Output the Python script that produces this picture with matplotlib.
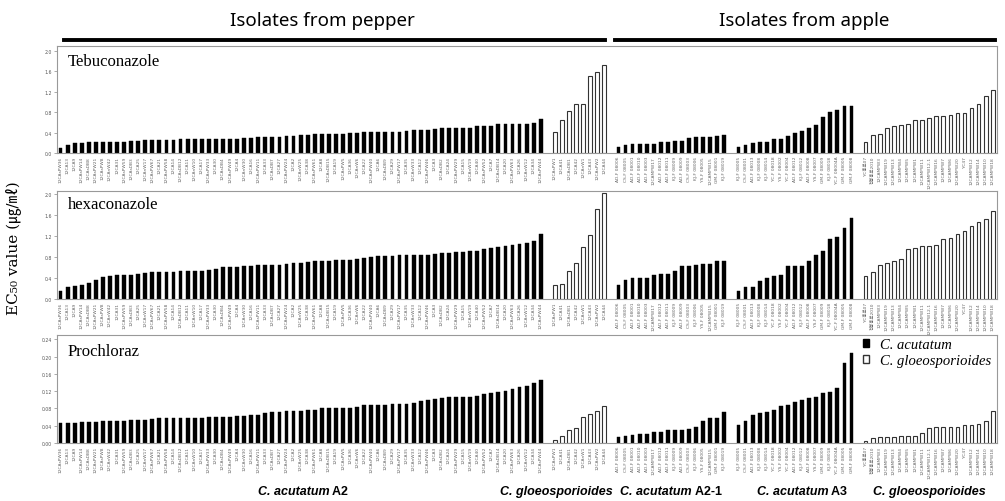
import matplotlib
matplotlib.use("Agg")
import matplotlib.pyplot as plt
from matplotlib.patches import Patch
from matplotlib.lines import Line2D

plt.rcParams['font.family'] = ['DejaVu Sans', 'Noto Sans CJK KR']

# ---------------- data ----------------
fungicides = ["Tebuconazole", "hexaconazole", "Prochloraz"]
group_titles = ["C. acutatum A2", "C. gloeosporioides", "C. acutatum A2-1",
                "C. acutatum A3", "C. gloeosporioides"]
group_species = ["acutatum", "gloeo", "acutatum", "acutatum", "gloeo"]

pepper_a2_names = [
    "12CAsPW36", "12CA13", "12CA9", "12CAsPW14", "12CAsDB8", "12CAsPW21", "12CAsPW8", "12CAnW42", "12CA31", "12CAsPW59",
    "12CAsDB3", "12CA25", "12CAnW17", "12CAsPW67", "12CA21", "12CAsPW58", "12CA14", "12CAsDB12", "12CA11", "12CAnW10",
    "12CA17", "12CAsPW33", "12CA30", "12CAsDB4", "12CAsPW49", "12CA4", "12CAnW30", "12CA16", "12CAsPW11", "12CA33",
    "12CAsDB7", "12CA27", "12CAsPW24", "12CA2", "12CAnW25", "12CA38", "12CAsPW61", "12CA8", "12CAsDB15", "12CA19",
    "12CAsPW5", "12CA36", "12CAnW6", "12CA22", "12CAsPW40", "12CA6", "12CAsDB9", "12CA29", "12CAsPW17", "12CA35",
    "12CAnW33", "12CA12", "12CAsPW46", "12CA3", "12CAsDB2", "12CA24", "12CAsPW29", "12CA15", "12CAnW19", "12CA40",
    "12CAsPW52", "12CA7", "12CAsDB14", "12CA20", "12CAsPW63", "12CA26", "12CAnW12", "12CA34", "12CAsPW44"]
pepper_glo_names = ["12CAsPW1", "12CA41", "12CAsDB1", "12CA42", "12CAnW1", "12CA43", "12CAsPW2", "12CA44"]
apple_a21_names = ["AD-F 08006", "CS-F 08005", "AD-F 08001", "AD-F 08010", "AD-F 08003", "12CAMPW17",
                   "AD-F 08012", "AD-F 08011", "KJ-F 08009", "AD-F 08009", "CS-F 08003", "KJ-F 08006",
                   "YS-F 08005", "12CAMPW15", "GM-F 08001", "KJ-F 08019"]
apple_a3_names = ["KJ-F 08005", "CS-F 08001", "AD-F 08013", "KJ-F 08008", "KJ-F 08014", "YC-F 08018",
                  "YS-F 08002", "YC-F 08004", "AD-F 08012", "KJ-F 08012", "AD-F 08008", "YS-F 08007",
                  "GM-F 08009", "KJ-F 08018", "YC-F 08004A", "GM-F 08005", "GM-F 08008"]
apple_glo_names = ["YC홍로07", "천봉홍로2010", "12CAMPW3", "12CAMPW19", "12CAMPW13", "12CAMPW4", "12CAMPW5",
                   "12CAMPW1", "12CAMPW11", "12CAMPW12-1", "12CAMPW16", "12CAMPW7", "12CAMPW6", "12CAMPW20",
                   "YC47", "12CAMPW12", "12CAMPW14", "12CAMPW10", "12CAMPW18"]

teb_pepper_a2 = [
    0.10, 0.16, 0.20, 0.20, 0.21, 0.21, 0.22, 0.22, 0.22, 0.22,
    0.235, 0.235, 0.25, 0.25, 0.25, 0.26, 0.26, 0.27, 0.27, 0.27,
    0.275, 0.275, 0.275, 0.275, 0.28, 0.28, 0.29, 0.30, 0.31, 0.31,
    0.32, 0.32, 0.33, 0.33, 0.35, 0.35, 0.37, 0.37, 0.38, 0.38,
    0.38, 0.385, 0.385, 0.405, 0.405, 0.405, 0.41, 0.42, 0.42, 0.43,
    0.45, 0.45, 0.45, 0.48, 0.49, 0.49, 0.49, 0.50, 0.50, 0.53,
    0.535, 0.535, 0.56, 0.57, 0.57, 0.57, 0.575, 0.595, 0.67]
teb_pepper_glo = [0.42, 0.64, 0.83, 0.96, 0.97, 1.52, 1.58, 1.73]
teb_apple_a21 = [0.12, 0.16, 0.18, 0.18, 0.18, 0.18, 0.21, 0.21, 0.235, 0.24, 0.29, 0.32, 0.32, 0.32, 0.33, 0.35]
teb_apple_a3 = [0.125, 0.157, 0.196, 0.22, 0.22, 0.28, 0.28, 0.33, 0.40, 0.44, 0.50, 0.54, 0.70, 0.80, 0.85, 0.93, 0.93]
teb_apple_glo = [0.22, 0.35, 0.37, 0.49, 0.53, 0.54, 0.575, 0.64, 0.64, 0.69, 0.72, 0.73, 0.75, 0.78, 0.78,
                 0.88, 0.97, 1.11, 1.23]

hex_pepper_a2 = [
    0.15, 0.23, 0.25, 0.27, 0.30, 0.36, 0.41, 0.43, 0.45, 0.46,
    0.46, 0.47, 0.49, 0.51, 0.51, 0.51, 0.51, 0.53, 0.53, 0.53,
    0.54, 0.55, 0.57, 0.60, 0.60, 0.61, 0.62, 0.62, 0.64, 0.64,
    0.65, 0.65, 0.67, 0.69, 0.69, 0.70, 0.72, 0.72, 0.72, 0.74,
    0.74, 0.74, 0.76, 0.77, 0.80, 0.81, 0.82, 0.82, 0.83, 0.83,
    0.83, 0.84, 0.84, 0.86, 0.87, 0.88, 0.89, 0.90, 0.91, 0.91,
    0.94, 0.96, 0.99, 1.00, 1.02, 1.05, 1.07, 1.10, 1.23]
hex_pepper_glo = [0.27, 0.28, 0.53, 0.69, 0.98, 1.21, 1.70, 2.02]
hex_apple_a21 = [0.27, 0.37, 0.40, 0.40, 0.40, 0.45, 0.48, 0.48, 0.54, 0.62, 0.63, 0.65, 0.67, 0.67, 0.73, 0.73]
hex_apple_a3 = [0.15, 0.22, 0.22, 0.34, 0.39, 0.43, 0.46, 0.62, 0.62, 0.62, 0.72, 0.84, 0.91, 1.14, 1.18, 1.34, 1.54]
hex_apple_glo = [0.43, 0.52, 0.64, 0.69, 0.73, 0.76, 0.95, 0.97, 1.00, 1.01, 1.03, 1.14, 1.15, 1.24, 1.30,
                 1.39, 1.47, 1.52, 1.67]

pro_pepper_a2 = [
    0.046, 0.047, 0.047, 0.048, 0.048, 0.049, 0.050, 0.050, 0.051, 0.052,
    0.053, 0.054, 0.054, 0.055, 0.057, 0.057, 0.057, 0.057, 0.058, 0.058,
    0.059, 0.060, 0.061, 0.061, 0.061, 0.062, 0.063, 0.064, 0.065, 0.070,
    0.071, 0.072, 0.073, 0.074, 0.074, 0.076, 0.077, 0.080, 0.080, 0.080,
    0.081, 0.081, 0.083, 0.087, 0.089, 0.089, 0.089, 0.091, 0.091, 0.091,
    0.092, 0.097, 0.099, 0.103, 0.105, 0.106, 0.106, 0.106, 0.106, 0.108,
    0.114, 0.116, 0.118, 0.120, 0.125, 0.130, 0.133, 0.138, 0.146]
pro_pepper_glo = [0.007, 0.016, 0.030, 0.035, 0.061, 0.068, 0.073, 0.085]
pro_apple_a21 = [0.015, 0.016, 0.019, 0.021, 0.021, 0.026, 0.026, 0.029, 0.030, 0.031, 0.032, 0.036,
                 0.051, 0.057, 0.059, 0.071]
pro_apple_a3 = [0.042, 0.050, 0.065, 0.070, 0.071, 0.077, 0.085, 0.089, 0.096, 0.099, 0.105, 0.106,
                0.115, 0.117, 0.127, 0.185, 0.209]
pro_apple_glo = [0.005, 0.011, 0.013, 0.015, 0.015, 0.016, 0.016, 0.017, 0.023, 0.034, 0.036, 0.036,
                 0.036, 0.037, 0.042, 0.042, 0.045, 0.052, 0.075]

y_ticks_hi = [0.0, 0.4, 0.8, 1.2, 1.6, 2.0]
y_ticks_lo = [0.00, 0.04, 0.08, 0.12, 0.16, 0.20, 0.24]

names = [pepper_a2_names, pepper_glo_names, apple_a21_names, apple_a3_names, apple_glo_names]
panels = [
    [teb_pepper_a2, teb_pepper_glo, teb_apple_a21, teb_apple_a3, teb_apple_glo],
    [hex_pepper_a2, hex_pepper_glo, hex_apple_a21, hex_apple_a3, hex_apple_glo],
    [pro_pepper_a2, pro_pepper_glo, pro_apple_a21, pro_apple_a3, pro_apple_glo],
]

# ---------------- layout ----------------
W, H = 1005, 502
fig = plt.figure(figsize=(W / 100, H / 100), dpi=100)


def fx(px):
    return px / W


def fy(py):
    return 1 - py / H


ax_left, ax_right = 57, 997
panel_px = [(47, 154), (192, 300), (336, 444)]
ylims = [2.1, 2.05, 0.25]
yticks = [y_ticks_hi, y_ticks_hi, y_ticks_lo]
yfmt = ["{:.1f}", "{:.1f}", "{:.2f}"]
title_y = [62, 205, 352]

# positions for all bars (one empty slot between groups)
positions = []
start = 0
for grp in names:
    positions.append([start + k for k in range(len(grp))])
    start += len(grp) + 1
all_pos = [p for grp in positions for p in grp]
all_names = [n for grp in names for n in grp]

for i, panel in enumerate(panels):
    top, bot = panel_px[i]
    ax = fig.add_axes([fx(ax_left), fy(bot), fx(ax_right) - fx(ax_left), (bot - top) / H])
    for g, vals in enumerate(panel):
        if group_species[g] == "acutatum":
            ax.bar(positions[g], vals, width=0.54, color="black", edgecolor="black", linewidth=0.3)
        else:
            ax.bar(positions[g], vals, width=0.52, color="white", edgecolor="#333333", linewidth=0.8)
    ax.set_xlim(-0.5, all_pos[-1] + 0.6)
    ax.set_ylim(0, ylims[i])
    ax.set_yticks(yticks[i])
    ax.set_yticklabels([yfmt[i].format(t) for t in yticks[i]])
    ax.set_xticks(all_pos)
    ax.set_xticklabels(all_names, rotation=90, fontsize=3.2, color="#666666")
    ax.tick_params(axis="x", length=0, pad=2)
    ax.tick_params(axis="y", labelsize=3.3, labelcolor="#555555", length=2, width=0.5, color="#888888", pad=1.5)
    for s in ax.spines.values():
        s.set_color("#999999")
        s.set_linewidth(0.8)
    fig.text(fx(68), fy(title_y[i]), fungicides[i], family="Liberation Serif", fontsize=12,
             va="center", ha="left")
    if i == 2:
        handles = [Patch(facecolor="black", edgecolor="black", label="C. acutatum"),
                   Patch(facecolor="white", edgecolor="#333333", label="C. gloeosporioides")]
        ax.legend(handles=handles, loc="upper left", bbox_to_anchor=((860 - ax_left) / (ax_right - ax_left), 1.0),
                  frameon=False, handlelength=0.45, handleheight=0.45, handletextpad=0.7,
                  labelspacing=0.2, borderpad=0.2, borderaxespad=0,
                  prop={"family": "Liberation Serif", "style": "italic", "size": 10.5})

# header titles and lines
fig.text(fx(322), fy(21), "Isolates from pepper", family="Noto Sans", fontsize=13.5, ha="center", va="center")
fig.text(fx(804), fy(21), "Isolates from apple", family="Noto Sans", fontsize=13.5, ha="center", va="center")
fig.add_artist(Line2D([fx(64), fx(605)], [fy(40.7), fy(40.7)], color="black", lw=2.8))
fig.add_artist(Line2D([fx(615), fx(995)], [fy(40.7), fy(40.7)], color="black", lw=2.8))

# y label
fig.text(fx(13), fy(248), "EC₅₀ value (㎍/㎖)", rotation=90, family=["DejaVu Serif", "Noto Sans CJK KR"],
         fontsize=11, ha="center", va="center")

# group labels at bottom
renderer = fig.canvas.get_renderer()
group_centers = [303, 556, 671, 802, 929]
for g, title in enumerate(group_titles):
    parts = title.split(" ")
    if parts[-1] in ("A2", "A3", "A2-1"):
        ital = " ".join(parts[:-1])
        upright = " " + parts[-1]
    else:
        ital = title
        upright = ""
    t1 = fig.text(0, fy(492), ital, family="Liberation Sans", fontsize=9, weight="bold", style="italic",
                  ha="left", va="center")
    w1 = t1.get_window_extent(renderer).width
    w2 = 0
    t2 = None
    if upright:
        t2 = fig.text(0, fy(492), upright, family="Liberation Sans", fontsize=9, weight="bold",
                      ha="left", va="center")
        w2 = t2.get_window_extent(renderer).width
    x0 = group_centers[g] - (w1 + w2) / 2
    t1.set_x(fx(x0))
    if t2 is not None:
        t2.set_x(fx(x0 + w1))

fig.savefig("out.png", dpi=100)
